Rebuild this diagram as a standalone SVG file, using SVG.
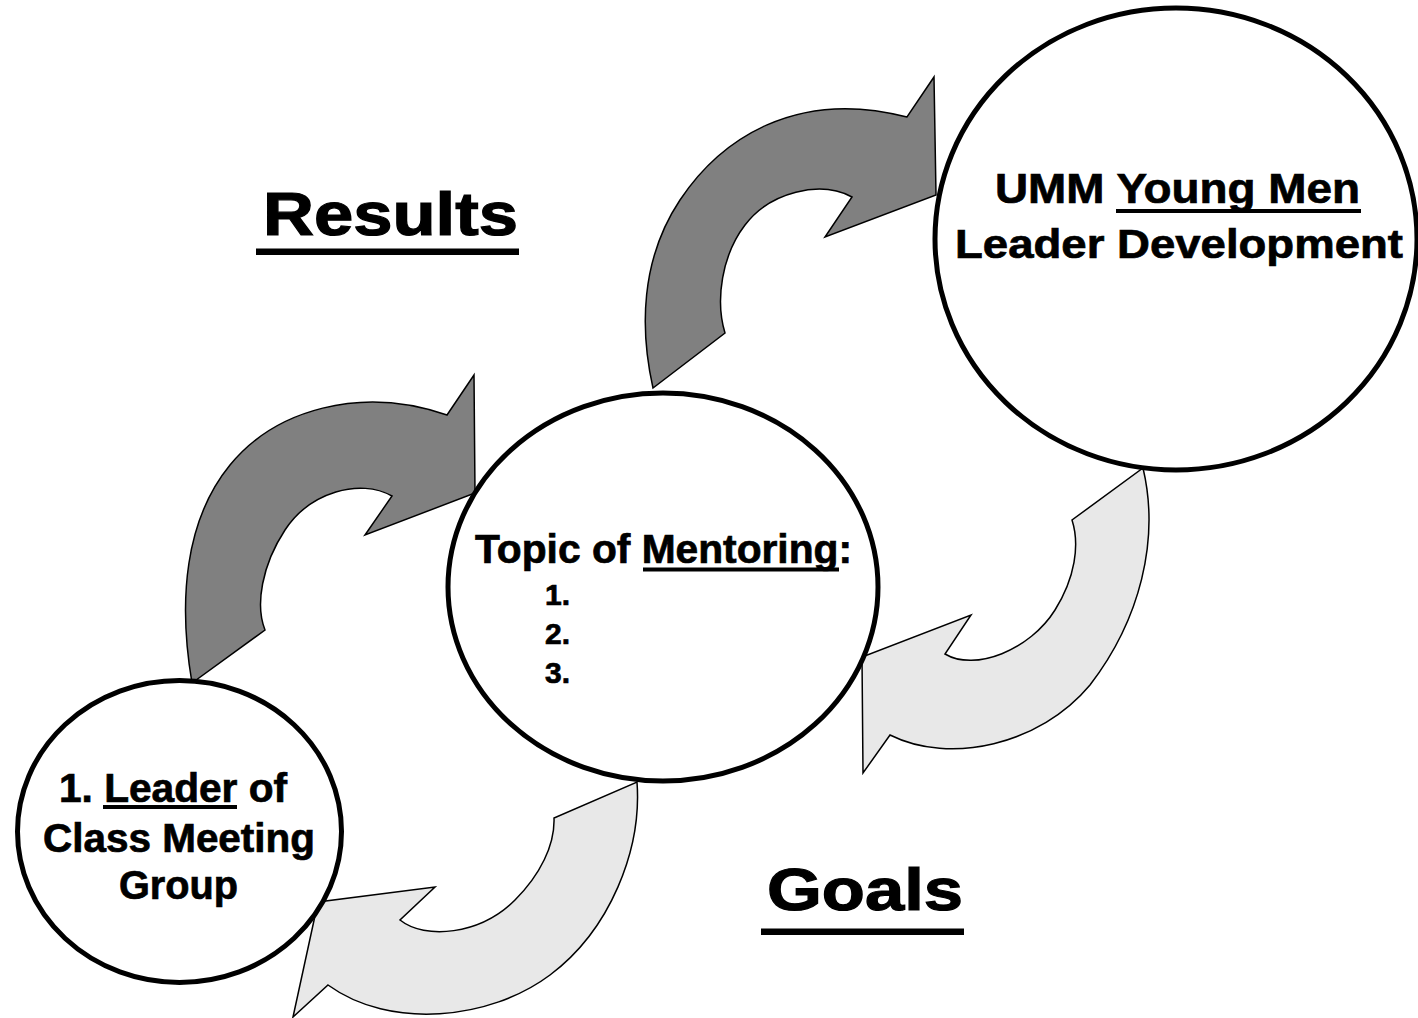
<svg xmlns="http://www.w3.org/2000/svg" width="1418" height="1018" viewBox="0 0 1418 1018">
<style>
.t{font-family:"Liberation Sans",Arial,sans-serif;font-weight:bold;fill:#000;stroke:#000;stroke-width:0.7}
.big{stroke-width:1.2}
.node{fill:#fff;stroke:#000;stroke-width:5}
.dark{fill:#808080;stroke:#000;stroke-width:1.5;stroke-linejoin:miter}
.light{fill:#e8e8e8;stroke:#000;stroke-width:1.5;stroke-linejoin:miter}
.ul{fill:#000}
</style>
<rect width="1418" height="1018" fill="#fff"/>
<g id="connectors">
<path class="dark" d="M192,683 C178,600 185,520 230,465 C275,410 360,385 447,415 L474,375 L475,493 L365,535 L392,496 C360,478 310,492 285,530 C262,565 255,605 265,630 Z"/>
<path class="dark" d="M653,388 C640,330 640,260 680,200 C720,140 795,88 907,117 L934,77 L936,195 L825,237 L852,197 C820,180 770,192 745,225 C722,255 715,300 725,333 Z"/>
<path class="light" d="M1143,468 C1160,540 1140,620 1090,685 C1040,745 950,765 890,735 L863,773 L862,657 L971,615 L945,654 C975,672 1030,650 1055,610 C1075,578 1080,545 1072,520 Z"/>
<path class="light" d="M637,782 C642,850 610,930 550,975 C490,1020 390,1030 328,985 L293,1017 L318,902 L435,887 L400,920 C425,940 480,935 515,900 C540,875 555,845 554,818 Z"/>
</g>
<g id="node-leader">
<ellipse class="node" cx="179.5" cy="831.5" rx="162" ry="151"/>
<text class="t" x="59" y="802" font-size="40" textLength="228" lengthAdjust="spacingAndGlyphs">1. Leader of</text>
<rect class="ul" x="103" y="805" width="134" height="4"/>
<text class="t" x="43" y="852" font-size="40" textLength="272" lengthAdjust="spacingAndGlyphs">Class Meeting</text>
<text class="t" x="119" y="899" font-size="40" textLength="119" lengthAdjust="spacingAndGlyphs">Group</text>
</g>
<g id="node-topic">
<ellipse class="node" cx="663" cy="587" rx="215" ry="194"/>
<text class="t" x="475" y="563" font-size="40" textLength="377" lengthAdjust="spacingAndGlyphs">Topic of Mentoring:</text>
<rect class="ul" x="643" y="567.5" width="196" height="4"/>
<text class="t" x="545" y="605" font-size="29" textLength="25" lengthAdjust="spacingAndGlyphs">1.</text>
<text class="t" x="545" y="644" font-size="29" textLength="25" lengthAdjust="spacingAndGlyphs">2.</text>
<text class="t" x="545" y="683" font-size="29" textLength="25" lengthAdjust="spacingAndGlyphs">3.</text>
</g>
<g id="node-umm">
<ellipse class="node" cx="1176" cy="239" rx="241" ry="231"/>
<text class="t" x="995" y="203" font-size="42" textLength="365" lengthAdjust="spacingAndGlyphs">UMM Young Men</text>
<rect class="ul" x="1116" y="209" width="245" height="4"/>
<text class="t" x="955" y="258" font-size="40" textLength="448" lengthAdjust="spacingAndGlyphs">Leader Development</text>
</g>
<g id="label-results">
<text class="t big" x="263" y="235" font-size="61" textLength="255" lengthAdjust="spacingAndGlyphs">Results</text>
<rect class="ul" x="256" y="248.5" width="263" height="6.5"/>
</g>
<g id="label-goals">
<text class="t big" x="767" y="910" font-size="59" textLength="196" lengthAdjust="spacingAndGlyphs">Goals</text>
<rect class="ul" x="761" y="928.5" width="203" height="6.5"/>
</g>
</svg>
